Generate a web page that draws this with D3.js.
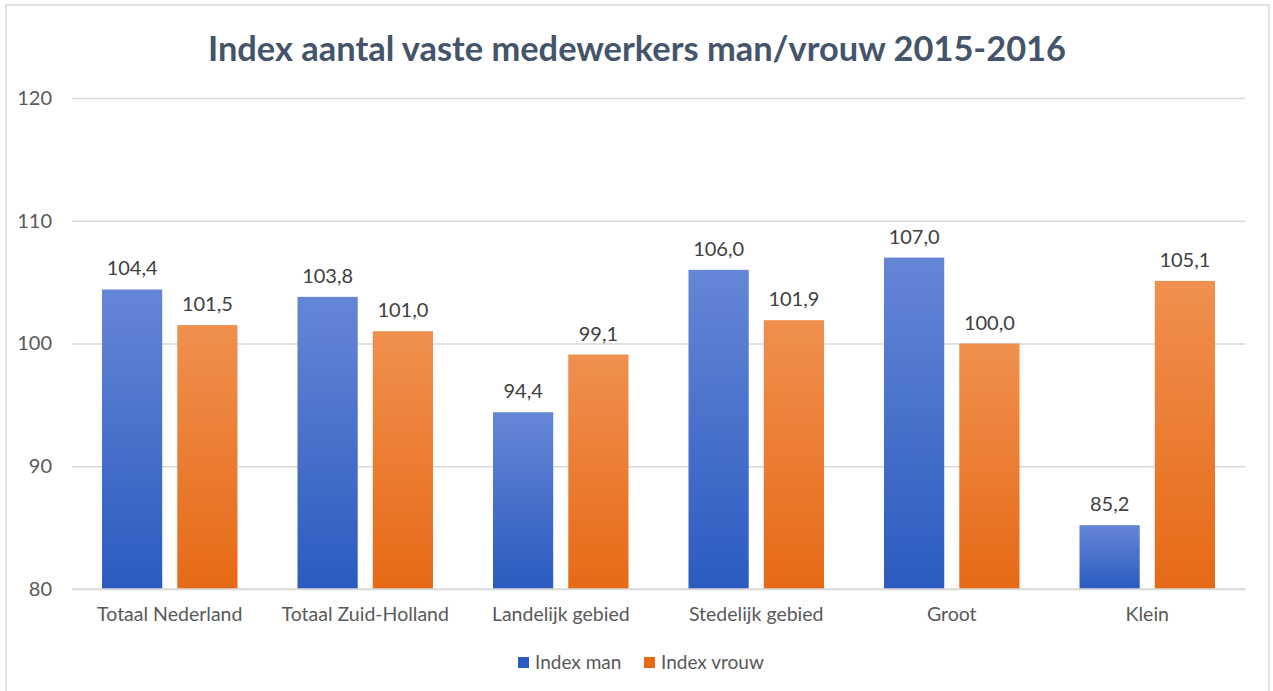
<!DOCTYPE html>
<html>
<head>
<meta charset="utf-8">
<script src="https://cdn.jsdelivr.net/npm/d3@7"></script>
<style>
  body { margin: 0; background: #fff; }
  text { font-family: Lato, "Open Sans", sans-serif; }
</style>
</head>
<body>
<div id="chart"></div>
<script>
const categories = ['Totaal Nederland', 'Totaal Zuid-Holland', 'Landelijk gebied', 'Stedelijk gebied', 'Groot', 'Klein'];
const seriesNames = ['Index man', 'Index vrouw'];
const indexMan = [104.4, 103.8, 94.4, 106.0, 107.0, 85.2];
const indexVrouw = [101.5, 101.0, 99.1, 101.9, 100.0, 105.1];
const yTicks = [80, 90, 100, 110, 120];

const width = 1273, height = 691;
const margin = { top: 98, bottom: 102, left: 72, right: 28 };

const colors = {
    'Index man': ['#6586d6', '#2b5bc0'],
    'Index vrouw': ['#f0904f', '#e66a16']
};

const xScale = d3.scaleBand().domain(categories).range([margin.left, width - margin.right]).padding(0);
const x1 = d3.scaleBand().domain(seriesNames).range([30, xScale.bandwidth() - 30]).paddingInner(0.2);
const yScale = d3.scaleLinear().domain([80, 120]).range([height - margin.bottom, margin.top]);

const fmt = v => v.toFixed(1).replace('.', ',');

const data = categories.map((c, i) => ({
    cat: c,
    values: [
        { name: 'Index man', value: indexMan[i] },
        { name: 'Index vrouw', value: indexVrouw[i] }
    ]
}));

const svg = d3.select('#chart').append('svg')
    .attr('width', width)
    .attr('height', height);

const defs = svg.append('defs');
seriesNames.forEach((s, i) => {
    const g = defs.append('linearGradient')
        .attr('id', 'grad' + i)
        .attr('x1', 0).attr('y1', 0).attr('x2', 0).attr('y2', 1);
    g.append('stop').attr('offset', '0%').attr('stop-color', colors[s][0]);
    g.append('stop').attr('offset', '100%').attr('stop-color', colors[s][1]);
});

// outer border
svg.append('rect')
    .attr('x', 6).attr('y', 5)
    .attr('width', width - 10).attr('height', height - 4)
    .attr('fill', 'none')
    .attr('stroke', '#d9d9d9')
    .attr('stroke-width', 1.5);

svg.append('text')
    .attr('x', 637)
    .attr('y', 61)
    .attr('text-anchor', 'middle')
    .attr('textLength', 858)
    .attr('lengthAdjust', 'spacingAndGlyphs')
    .style('font-size', '34px')
    .style('font-weight', 'bold')
    .style('fill', '#44546a')
    .text('Index aantal vaste medewerkers man/vrouw 2015-2016');

// gridlines
const yAxis = svg.append('g')
    .attr('transform', `translate(${margin.left},0)`)
    .call(d3.axisLeft(yScale).tickValues(yTicks).tickSize(-(width - margin.left - margin.right)).tickPadding(20));
yAxis.select('.domain').remove();
yAxis.selectAll('line').attr('stroke', '#d9d9d9').attr('stroke-width', 1.5);
yAxis.selectAll('text')
    .style('font-size', '20px')
    .style('fill', '#595959')
    .style('font-family', 'Lato, sans-serif');

const groups = svg.append('g').selectAll('g')
    .data(data)
    .enter().append('g')
    .attr('transform', d => `translate(${xScale(d.cat)},0)`);

groups.selectAll('rect')
    .data(d => d.values)
    .enter().append('rect')
    .attr('x', d => x1(d.name))
    .attr('y', d => yScale(d.value))
    .attr('width', x1.bandwidth())
    .attr('height', d => yScale(80) - yScale(d.value))
    .attr('fill', d => `url(#grad${seriesNames.indexOf(d.name)})`);

groups.selectAll('.lbl')
    .data(d => d.values)
    .enter().append('text')
    .attr('class', 'lbl')
    .attr('x', d => x1(d.name) + x1.bandwidth() / 2)
    .attr('y', d => yScale(d.value) - 14)
    .attr('text-anchor', 'middle')
    .style('font-size', '20px')
    .style('fill', '#404040')
    .text(d => fmt(d.value));

// baseline
svg.append('line')
    .attr('x1', margin.left).attr('x2', width - margin.right)
    .attr('y1', yScale(80)).attr('y2', yScale(80))
    .attr('stroke', '#d9d9d9').attr('stroke-width', 1.5);

const xAxis = svg.append('g')
    .attr('transform', `translate(0,${yScale(80)})`)
    .call(d3.axisBottom(xScale).tickSize(0).tickPadding(18));
xAxis.select('.domain').remove();
xAxis.selectAll('text')
    .style('font-size', '19.5px')
    .style('fill', '#595959')
    .style('font-family', 'Lato, sans-serif');

// legend
const legendX = [518, 644];
const legend = svg.append('g').selectAll('g')
    .data(seriesNames)
    .enter().append('g')
    .attr('transform', (d, i) => `translate(${legendX[i]},657)`);
legend.append('rect')
    .attr('width', 11).attr('height', 11)
    .attr('fill', (d, i) => colors[d][1]);
legend.append('text')
    .attr('x', 17)
    .attr('y', 12)
    .style('font-size', '19px')
    .style('fill', '#595959')
    .text(d => d);
</script>
</body>
</html>
